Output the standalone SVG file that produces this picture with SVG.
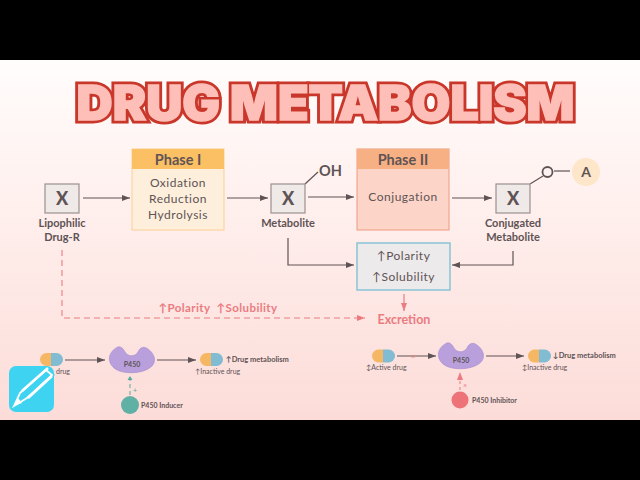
<svg xmlns="http://www.w3.org/2000/svg" width="640" height="480" viewBox="0 0 640 480">
<style>
.t{font-family:"Lato","Liberation Sans",sans-serif;fill:#5f5355}
.lb{font-size:11px;font-weight:700;text-anchor:middle}
.box{fill:#efe9e8;stroke:#9b9090;stroke-width:1.2}
.x{font-size:18px;font-weight:900;text-anchor:middle}
.body{font-size:12px;text-anchor:middle;letter-spacing:.5px}
.head{font-size:14.500px;font-weight:700;text-anchor:middle}
.c{fill:none;stroke:#5f5355;stroke-width:1.2}
.d{fill:none;stroke:#ec7b80;stroke-width:1.1;stroke-dasharray:6 4}
.small{font-size:7px}
.sb{font-size:7px;font-weight:700}
.sm2{font-size:7.500px;font-weight:700}
.enz{fill:#b9a0dc;stroke:#a68ccf;stroke-width:.6}
</style>
<defs>
<linearGradient id="bg" x1="0" y1="0" x2="0" y2="1"><stop offset="0" stop-color="#fffdfc"/><stop offset=".3" stop-color="#fff3f1"/><stop offset="1" stop-color="#fcdcd8"/></linearGradient>
<marker id="a" markerWidth="9" markerHeight="7" refX="8" refY="3.500" orient="auto" markerUnits="userSpaceOnUse"><path d="M0 .5L8 3.500L0 6.500z" fill="#5f5355"/></marker>
<marker id="r" markerWidth="9" markerHeight="7" refX="8" refY="3.500" orient="auto" markerUnits="userSpaceOnUse"><path d="M0 .5L8 3.500L0 6.500z" fill="#ec7b80"/></marker>
<marker id="g" markerWidth="5" markerHeight="6" refX="4" refY="3" orient="auto" markerUnits="userSpaceOnUse"><path d="M0 .5L4 3L0 5.500z" fill="#55ab9f"/></marker>
<g id="pill"><path d="M11 0H6.500a6.500 6.500 0 0 0 0 13H11z" fill="#f6b765"/><path d="M11 0H16.500a6.500 6.500 0 0 1 0 13H11z" fill="#82bcd2"/></g>
<path id="enzyme" d="M-16 -12C-12 -15 -9 -12 -7 -8C-4 -3 3 -3 6 -8C8 -13 12 -14 16 -11C23 -6 25 2 19 7C11 14 -10 15 -18 8C-25 2 -24 -7 -16 -12z"/>
</defs>
<rect width="640" height="480" fill="#000"/>
<rect y="60" width="640" height="360" fill="url(#bg)"/>

<g id="title" fill="#c9362a" stroke="#c9362a" stroke-width="7" stroke-linejoin="miter"><text id="title-text" x="325.500" y="119.500" text-anchor="middle" textLength="498" lengthAdjust="spacingAndGlyphs" style="font-family:'Inter','Liberation Sans',sans-serif;font-weight:900;font-size:48px">DRUG METABOLISM</text><use href="#title-text" fill="#fdbfb8" stroke="#fdbfb8" stroke-width="1.500"/></g>

<g id="connectors">
<path class="c" d="M83 198H130" marker-end="url(#a)"/>
<path class="c" d="M227 198H268" marker-end="url(#a)"/>
<path class="c" d="M308 197H354" marker-end="url(#a)"/>
<path class="c" d="M452 198H492" marker-end="url(#a)"/>
<path class="c" d="M288 238V265H354" marker-end="url(#a)"/>
<path class="c" d="M513 251V265H452" marker-end="url(#a)"/>
<path class="d" d="M62 250V318H365" marker-end="url(#r)"/>
<path fill="none" stroke="#ec7b80" stroke-width="1.2" d="M404 294V311" marker-end="url(#r)"/>
<path class="c" d="M305 184L318 172" stroke-width="1.6"/>
<path class="c" d="M530 184L543 176"/>
<path class="c" d="M554 171H570"/>
<path class="c" d="M65 360H105" marker-end="url(#a)"/>
<path class="c" d="M157 360H196" marker-end="url(#a)"/>
<path fill="none" stroke="#55ab9f" stroke-dasharray="4 3" d="M130 395V376" marker-end="url(#g)"/>
<path class="c" d="M397 356H436" marker-end="url(#a)"/>
<path class="c" d="M486 356H524" marker-end="url(#a)"/>
<path fill="none" stroke="#ec7b80" stroke-dasharray="3 3" d="M460 390V372" marker-end="url(#r)"/>
</g>

<g id="drug"><rect class="box" x="45" y="184" width="34" height="29"/><text class="t x" x="62" y="205">X</text><text class="t lb" x="62" y="227">Lipophilic</text><text class="t lb" x="62" y="241">Drug-R</text></g>
<g id="phase1"><rect x="132" y="149" width="92" height="81" fill="#fdefdc" stroke="#fbcf95" stroke-width="1"/><rect x="132" y="149" width="92" height="20" fill="#fbc063"/><text class="t head" x="178" y="164.500">Phase I</text><text class="t body" x="178" y="187">Oxidation</text><text class="t body" x="178" y="203">Reduction</text><text class="t body" x="178" y="219">Hydrolysis</text></g>
<g id="metabolite"><rect class="box" x="271" y="184" width="34" height="29"/><text class="t x" x="288" y="205">X</text><text class="t lb" x="288" y="227">Metabolite</text><text class="t" x="319" y="176" font-size="14.500" font-weight="700">OH</text></g>
<g id="phase2"><rect x="357" y="149" width="92" height="81" fill="#fcd5c8" stroke="#ee9a80" stroke-width="1"/><rect x="357" y="149" width="92" height="20" fill="#f7b083"/><text class="t head" x="403" y="164.500">Phase II</text><text class="t body" x="403" y="201">Conjugation</text></g>
<g id="conjugated"><rect class="box" x="496" y="184" width="34" height="29"/><text class="t x" x="513" y="205">X</text><text class="t lb" x="513" y="227">Conjugated</text><text class="t lb" x="513" y="241">Metabolite</text><circle cx="547.500" cy="172" r="5" fill="none" stroke="#5f5355" stroke-width="1.800"/><circle cx="586" cy="172" r="14" fill="#fde6ca"/><text class="t" x="586" y="177" font-size="14" font-weight="700" text-anchor="middle">A</text></g>
<g id="properties"><rect x="357" y="243" width="93" height="47" fill="#eceaea" stroke="#88c3d6" stroke-width="1.500"/><text class="t body" x="403.500" y="260">↑Polarity</text><text class="t body" x="403.500" y="281">↑Solubility</text></g>
<text id="arrow-label" x="218" y="312" text-anchor="middle" font-size="11.500" font-weight="700" letter-spacing=".4" style="white-space:pre;font-family:'Lato','Liberation Sans',sans-serif;fill:#ec7b80">↑Polarity  ↑Solubility</text>
<text id="excretion" x="404" y="324" text-anchor="middle" font-size="12.500" font-weight="700" style="font-family:'Lato','Liberation Sans',sans-serif;fill:#ec7b80">Excretion</text>

<g id="left-drug"><use href="#pill" x="40" y="353"/><text class="t small" x="56" y="374">drug</text></g>
<g id="left-enzyme"><use href="#enzyme" x="132" y="360" class="enz"/><text class="t sb" x="132" y="367" text-anchor="middle">P450</text></g>
<g id="left-inactive"><use href="#pill" x="200" y="353"/><text class="t small" x="195" y="374">↑Inactive drug</text><text class="t sm2" x="226" y="362">↑Drug metabolism</text></g>
<g id="inducer"><circle cx="130" cy="405" r="9" fill="#5fb0a5"/><text class="t sb" x="141" y="408">P450 Inducer</text><text x="135" y="393" font-size="7" fill="#55ab9f" text-anchor="middle" font-family="Lato,sans-serif">+</text></g>
<g id="right-drug"><use href="#pill" x="372" y="349.500"/><text class="t small" x="366" y="370">↕Active drug</text><text x="413" y="358.500" font-size="7" fill="#ec7b80" text-anchor="middle" font-family="Lato,sans-serif">×</text></g>
<g id="right-enzyme"><use href="#enzyme" x="461" y="356" class="enz"/><text class="t sb" x="461" y="363" text-anchor="middle">P450</text></g>
<g id="right-inactive"><use href="#pill" x="528" y="349.500"/><text class="t small" x="522" y="370">↕Inactive drug</text><text class="t sm2" x="553" y="358">↓Drug metabolism</text></g>
<g id="inhibitor"><circle cx="460" cy="400" r="8.500" fill="#ee7378"/><text class="t sb" x="472" y="403">P450 Inhibitor</text><text x="465" y="388" font-size="7" fill="#ec7b80" text-anchor="middle" font-family="Lato,sans-serif">×</text></g>

<g id="logo"><rect x="9" y="366" width="45" height="46" rx="7" fill="#3fd3f2"/><path d="M46 367L55 375L26 401L13 408Z" fill="#3fd3f2"/><path d="M48 368L22 391M52 376L28 398" stroke="#fff" stroke-width="2.500" fill="none"/><path d="M20 393L46 370L52 375L27 398L14 406Z" fill="none" stroke="#fff" stroke-width="1.800"/><path d="M14 406L18 398L22 403Z" fill="#fff"/></g>
</svg>
